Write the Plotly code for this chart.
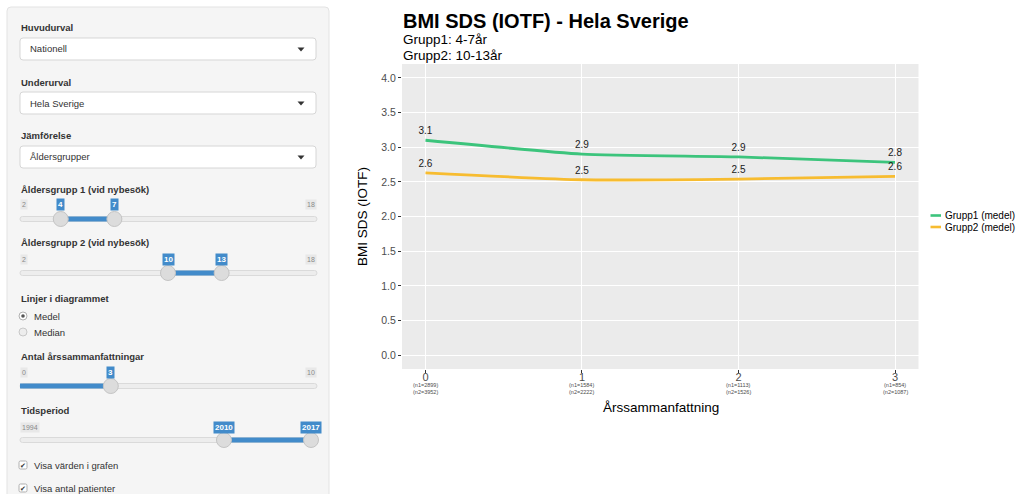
import plotly.graph_objects as go

# ---------------- data ----------------
years = [0, 1, 2, 3]
series_names = ["Grupp1 (medel)", "Grupp2 (medel)"]
grupp1 = [3.10, 2.90, 2.86, 2.78]
grupp2 = [2.63, 2.53, 2.54, 2.58]
n1 = [2899, 1584, 1113, 854]
n2 = [3952, 2222, 1526, 1087]
y_ticks = [0.0, 0.5, 1.0, 1.5, 2.0, 2.5, 3.0, 3.5, 4.0]
colors = ["#3CC47C", "#F7BC30"]

W, H = 1024, 494
FONT = "Liberation Sans, Arial, sans-serif"


def px(x):
    return x / W


def py(y):
    return 1 - y / H


shapes = []
annotations = []


def rrect(x0, y0, x1, y1, r, fill, line, lw=1):
    def P(x, y):
        return f"{px(x):.6f},{py(y):.6f}"
    path = (f"M {P(x0 + r, y0)} L {P(x1 - r, y0)} Q {P(x1, y0)} {P(x1, y0 + r)} "
            f"L {P(x1, y1 - r)} Q {P(x1, y1)} {P(x1 - r, y1)} "
            f"L {P(x0 + r, y1)} Q {P(x0, y1)} {P(x0, y1 - r)} "
            f"L {P(x0, y0 + r)} Q {P(x0, y0)} {P(x0 + r, y0)} Z")
    shapes.append(dict(type="path", xref="paper", yref="paper", path=path,
                       fillcolor=fill, line=dict(color=line, width=lw), layer="below"))


def circle(cx, cy, r, fill, line, lw=1):
    shapes.append(dict(type="circle", xref="paper", yref="paper",
                       x0=px(cx - r), x1=px(cx + r), y0=py(cy + r), y1=py(cy - r),
                       fillcolor=fill, line=dict(color=line, width=lw), layer="above"))


def rect(x0, y0, x1, y1, fill, line=None, lw=0):
    shapes.append(dict(type="rect", xref="paper", yref="paper",
                       x0=px(x0), x1=px(x1), y0=py(y1), y1=py(y0),
                       fillcolor=fill, line=dict(color=line or fill, width=lw), layer="above"))


def text(x, y, s, size=9.5, color="#333333", xanchor="left", bold=False, bg=None):
    annotations.append(dict(xref="paper", yref="paper", x=px(x), y=py(y),
                            text=(f"<b>{s}</b>" if bold else s), showarrow=False,
                            xanchor=xanchor, yanchor="middle",
                            font=dict(family=FONT, size=size, color=color),
                            bgcolor=bg, borderpad=1))


# ---------------- sidebar ----------------
rrect(7, 7, 329, 520, 4, "#F5F5F5", "#E3E3E3")

selects = [("Huvudurval", "Nationell", 28, 49),
           ("Underurval", "Hela Sverige", 82, 103),
           ("Jämförelse", "Åldersgrupper", 136, 157)]
for lab, val, ly, by in selects:
    text(19, ly, lab, size=9.5, bold=True)
    rrect(20, by - 11, 316, by + 11, 3, "#FFFFFF", "#D6D6D6")
    text(28, by, val, size=9.5)
    shapes.append(dict(type="path", xref="paper", yref="paper",
                       path=f"M {px(297.5)},{py(by - 1.5)} L {px(304.5)},{py(by - 1.5)} L {px(301)},{py(by + 2.5)} Z",
                       fillcolor="#333333", line=dict(width=0)))

BLUE = "#428BCA"


def slider(label, ly, lab_y, track_y, vmin, vmax, vals, fill_from_left=False):
    text(19, ly, label, size=9.5, bold=True)
    x_lo, x_hi = 25, 311

    def pos(v):
        return x_lo + (v - vmin) / (vmax - vmin) * (x_hi - x_lo)
    rrect(20, track_y - 2.5, 317, track_y + 2.5, 2.5, "#EDEDED", "#DADADA")
    if fill_from_left:
        rect(20, track_y - 2.5, pos(vals[0]), track_y + 2.5, BLUE)
    else:
        rect(pos(vals[0]), track_y - 2.5, pos(vals[1]), track_y + 2.5, BLUE)
    if vmin not in vals:
        text(20, lab_y, str(vmin), size=7, color="#888888", xanchor="left", bg="#E8E8E8")
    if vmax not in vals:
        text(317, lab_y, str(vmax), size=7, color="#888888", xanchor="right", bg="#E8E8E8")
    for v in vals:
        circle(pos(v), track_y, 7.5, "#DCDCDC", "#C4C4C4")
        text(pos(v), lab_y, f"<b>{v}</b>", size=8, color="#FFFFFF", xanchor="center", bg=BLUE)


slider("Åldersgrupp 1 (vid nybesök)", 189, 204, 219, 2, 18, [4, 7])
slider("Åldersgrupp 2 (vid nybesök)", 243, 259, 273, 2, 18, [10, 13])

text(19, 298, "Linjer i diagrammet", size=9.5, bold=True)
circle(23, 316, 4, "#FFFFFF", "#B0B0B0")
circle(23, 316, 1.8, "#555555", "#555555", 0)
text(32, 316, "Medel", size=9.5)
circle(23, 332, 4, "#EDEDED", "#C8C8C8")
text(32, 332, "Median", size=9.5)

slider("Antal årssammanfattningar", 356, 372, 386, 0, 10, [3], fill_from_left=True)
slider("Tidsperiod", 410, 427, 440, 1994, 2017, [2010, 2017])

for cy, lab in [(465, "Visa värden i grafen"), (488, "Visa antal patienter")]:
    rrect(19, cy - 4, 27, cy + 4, 1.5, "#FFFFFF", "#B0B0B0")
    text(23, cy, "✔", size=6.5, color="#333333", xanchor="center")
    text(32, cy, lab, size=9.5)

# ---------------- chart ----------------
fig = go.Figure()
for name, vals, col in zip(series_names, [grupp1, grupp2], colors):
    fig.add_trace(go.Scatter(
        x=years, y=vals, name=name, mode="lines+markers+text",
        line=dict(color=col, width=2.8, shape="spline", smoothing=0.5),
        marker=dict(size=4, color="rgba(0,0,0,0)"),
        text=[f"{v:.1f}" for v in vals], textposition="top center",
        textfont=dict(family=FONT, size=10, color="#1A1A1A"),
        showlegend=False, hoverinfo="skip", cliponaxis=False))

for x, a, b in zip(years, n1, n2):
    for yy, s in [(384.5, f"(n1={a})"), (391.5, f"(n2={b})")]:
        annotations.append(dict(xref="x", yref="paper", x=x, y=py(yy), text=s,
                                showarrow=False, xanchor="center", yanchor="middle",
                                font=dict(family=FONT, size=5.5, color="#4D4D4D")))

text(401, 21, "<b>BMI SDS (IOTF) - Hela Sverige</b>", size=20, color="#000000")
text(401, 40, "Grupp1: 4-7år", size=13.5, color="#000000")
text(401, 55.5, "Grupp2: 10-13år", size=13.5, color="#000000")
annotations.append(dict(xref="paper", yref="paper", x=px(362), y=py(217), text="BMI SDS (IOTF)",
                        textangle=-90, showarrow=False, xanchor="center", yanchor="middle",
                        font=dict(family=FONT, size=13.5, color="#000000")))
text(661, 407, "Årssammanfattning", size=13.5, color="#000000", xanchor="center")

for i, (name, col) in enumerate(zip(series_names, colors)):
    ly = 215.5 + i * 11.5
    shapes.append(dict(type="line", xref="paper", yref="paper",
                       x0=px(930.5), x1=px(941), y0=py(ly), y1=py(ly),
                       line=dict(color=col, width=2.6)))
    text(943, ly, name, size=10, color="#000000")

fig.update_layout(
    width=W, height=H, margin=dict(l=0, r=0, t=0, b=0, pad=0),
    paper_bgcolor="#FFFFFF", plot_bgcolor="#EBEBEB",
    font=dict(family=FONT),
    shapes=shapes, annotations=annotations, showlegend=False,
    xaxis=dict(domain=[px(402), px(918.5)], range=[-0.15, 3.15],
               tickvals=years, ticktext=[str(y) for y in years],
               showgrid=True, gridcolor="#FFFFFF", gridwidth=1.1, zeroline=False,
               ticks="outside", ticklen=3, tickcolor="#333333", tickwidth=1,
               ticklabelstandoff=-5,
               tickfont=dict(family=FONT, size=11, color="#4D4D4D"), showline=False),
    yaxis=dict(domain=[py(369), py(64)], range=[-0.2, 4.2],
               tickvals=y_ticks, ticktext=[f"{v:.1f}" for v in y_ticks],
               showgrid=True, gridcolor="#FFFFFF", gridwidth=1.1, zeroline=False,
               ticks="outside", ticklen=3, tickcolor="#333333", tickwidth=1,
               tickfont=dict(family=FONT, size=10.5, color="#4D4D4D"), showline=False),
)

fig.write_html("out.html", config={"displayModeBar": False},
               post_script="document.body.style.margin='0';")
